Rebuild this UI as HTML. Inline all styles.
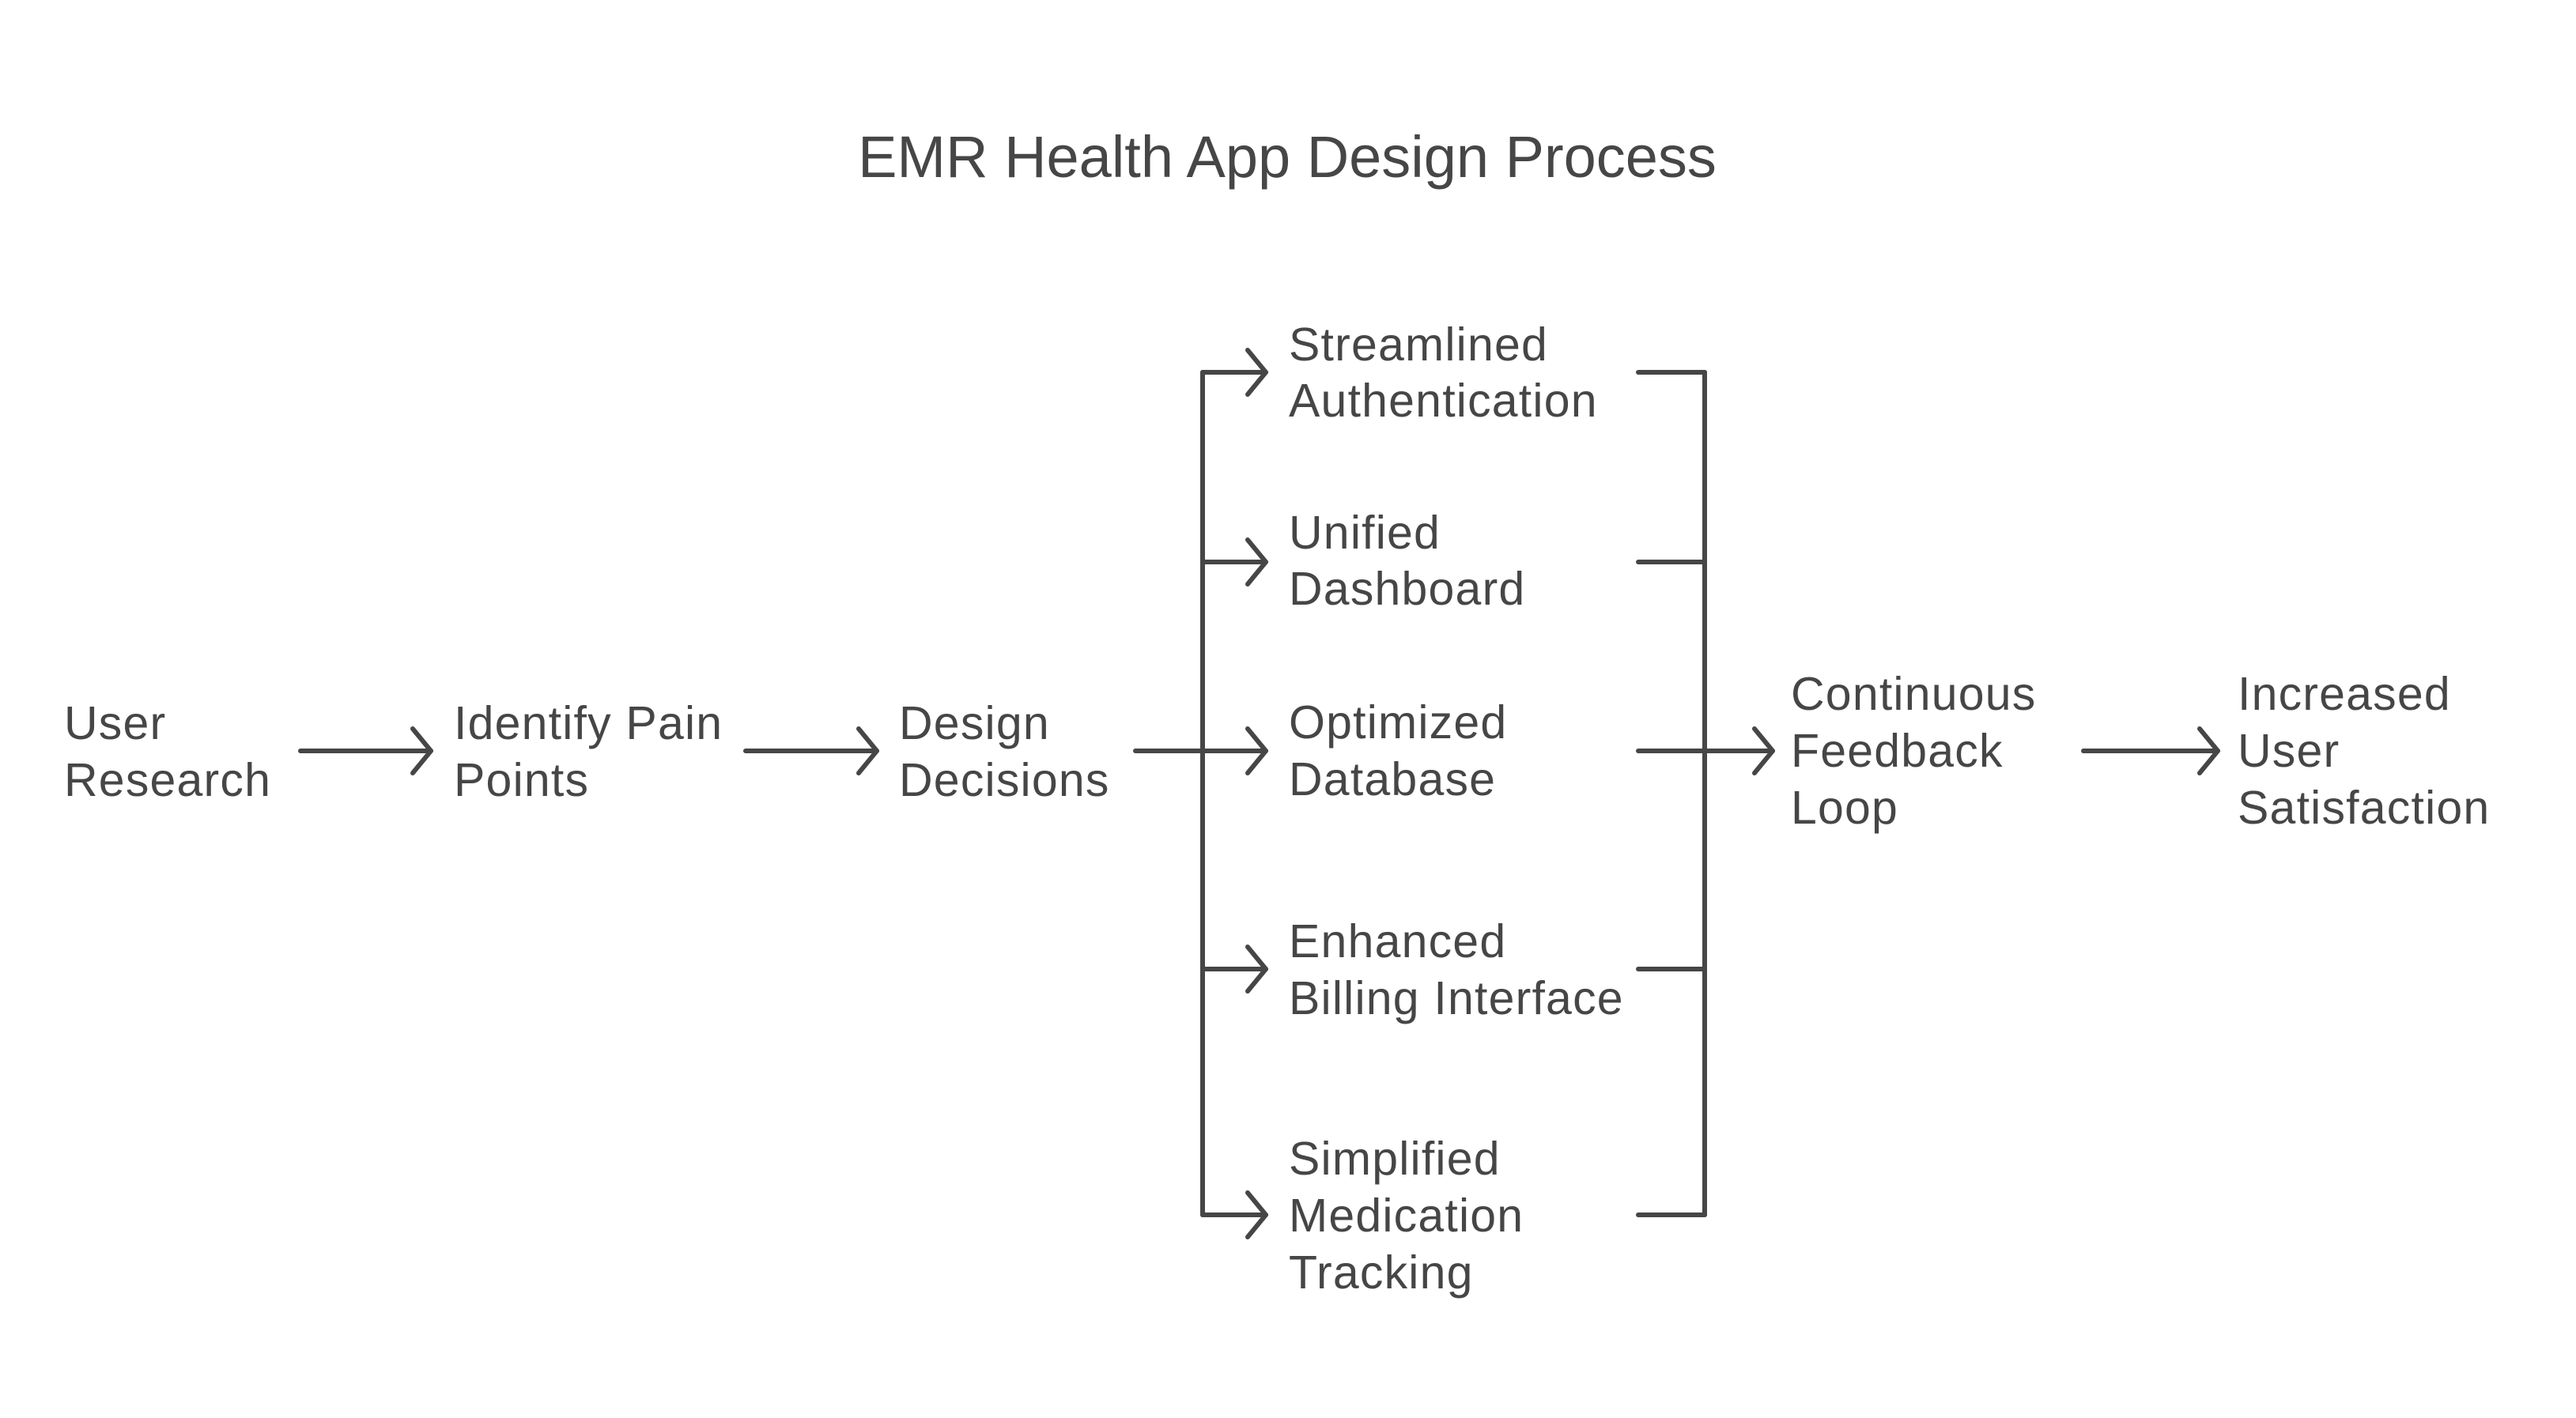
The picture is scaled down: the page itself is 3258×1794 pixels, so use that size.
<!DOCTYPE html>
<html><head><meta charset="utf-8"><style>
html,body{margin:0;padding:0;background:#fff;}
svg{display:block;}
text{font-family:"Liberation Sans",sans-serif;fill:#464646;}
</style></head><body>
<svg width="3258" height="1794" viewBox="0 0 3258 1794" xmlns="http://www.w3.org/2000/svg">
<rect width="3258" height="1794" fill="#fff"/>
<text x="1628" y="224" font-size="74" text-anchor="middle">EMR Health App Design Process</text>
<g stroke="#464646" stroke-width="6" fill="none" stroke-linecap="round" stroke-linejoin="round">
<line x1="380" y1="950" x2="545" y2="950"/><polyline points="522,922 545,950 522,978"/>
<line x1="943" y1="950" x2="1109" y2="950"/><polyline points="1086,922 1109,950 1086,978"/>
<line x1="1436" y1="950" x2="1601" y2="950"/>
<line x1="1521" y1="471" x2="1521" y2="1537"/>
<line x1="1521" y1="471" x2="1601" y2="471"/><polyline points="1578,443 1601,471 1578,499"/>
<line x1="1521" y1="711" x2="1601" y2="711"/><polyline points="1578,683 1601,711 1578,739"/>
<polyline points="1578,922 1601,950 1578,978"/>
<line x1="1521" y1="1226" x2="1601" y2="1226"/><polyline points="1578,1198 1601,1226 1578,1254"/>
<line x1="1521" y1="1537" x2="1601" y2="1537"/><polyline points="1578,1509 1601,1537 1578,1565"/>
<line x1="2072" y1="471" x2="2156" y2="471"/>
<line x1="2072" y1="711" x2="2156" y2="711"/>
<line x1="2072" y1="950" x2="2242" y2="950"/>
<line x1="2072" y1="1226" x2="2156" y2="1226"/>
<line x1="2072" y1="1537" x2="2156" y2="1537"/>
<line x1="2156" y1="471" x2="2156" y2="1537"/>
<polyline points="2219,922 2242,950 2219,978"/>
<line x1="2635" y1="950" x2="2805" y2="950"/><polyline points="2782,922 2805,950 2782,978"/>
</g>
<g font-size="59" letter-spacing="1.2">
<text x="81" y="935">User</text><text x="81" y="1007">Research</text>
<text x="574" y="935">Identify Pain</text><text x="574" y="1007">Points</text>
<text x="1137" y="935">Design</text><text x="1137" y="1007">Decisions</text>
<text x="1630" y="456">Streamlined</text><text x="1630" y="527">Authentication</text>
<text x="1630" y="694">Unified</text><text x="1630" y="765">Dashboard</text>
<text x="1630" y="934">Optimized</text><text x="1630" y="1006">Database</text>
<text x="1630" y="1211">Enhanced</text><text x="1630" y="1283">Billing Interface</text>
<text x="1630" y="1486">Simplified</text><text x="1630" y="1558">Medication</text><text x="1630" y="1630">Tracking</text>
<text x="2265" y="898">Continuous</text><text x="2265" y="970">Feedback</text><text x="2265" y="1042">Loop</text>
<text x="2830" y="898">Increased</text><text x="2830" y="970">User</text><text x="2830" y="1042">Satisfaction</text>
</g>
</svg>
</body></html>
